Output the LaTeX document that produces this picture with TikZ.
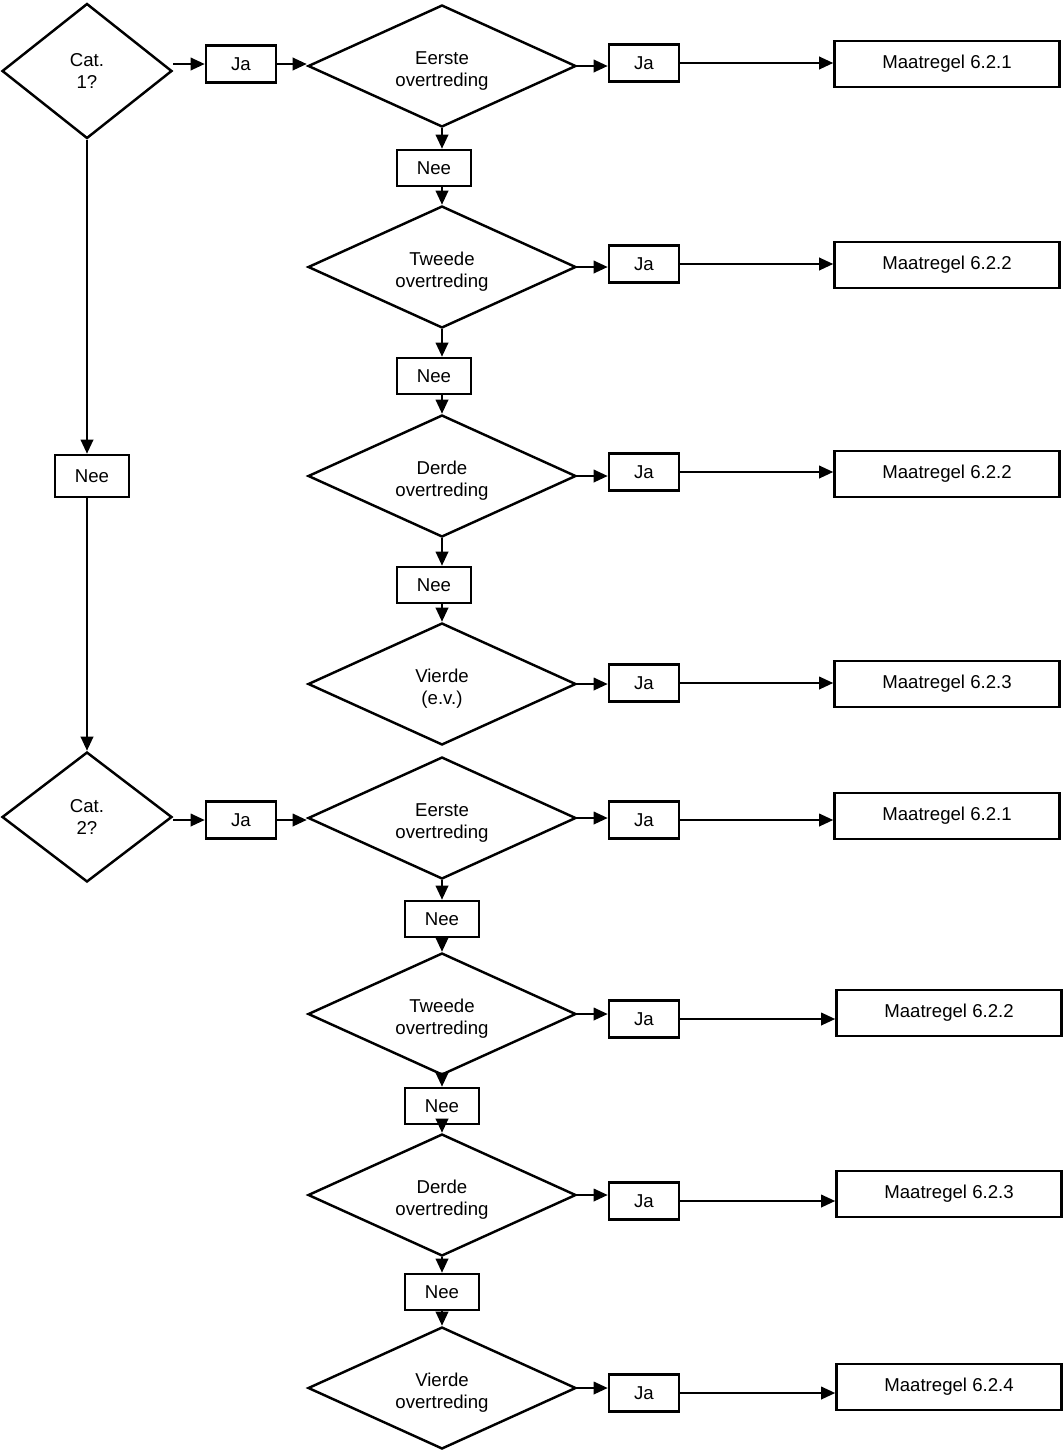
\documentclass[tikz,border=0pt]{standalone}
\usepackage{fontspec}
\setmainfont{Liberation Sans}
\usetikzlibrary{shapes.geometric}
\usetikzlibrary{arrows.meta}

\tikzset{
  vraag/.style={draw, diamond, line width=1.4pt, aspect=2.2, inner sep=0pt,
    minimum width=5.36cm, minimum height=2.44cm, align=center, text height=25.8pt},
  catvraag/.style={vraag, aspect=1.25, minimum width=3.4cm, minimum height=2.7cm,
    text height=20.2pt},
  antw/.style={draw, rectangle, line width=1.4pt, inner sep=0pt,
    minimum width=1.4cm, minimum height=0.74cm},
  nee/.style={antw, minimum width=1.48cm, minimum height=0.72cm},
  maatr/.style={antw, minimum width=4.5cm, minimum height=0.92cm},
  pijl/.style={line width=1.4pt, -{Triangle[length=8pt,width=7pt]}},
}

\begin{document}
\begin{tikzpicture}[x=0.02cm, y=-0.02cm, font=\fontsize{10.6}{12.5}\selectfont]
\useasboundingbox (0,0) rectangle (1063,1451);
\def\colc{87}
\def\colja{241}
\def\colv{442}
\def\colj{644}
\def\colm{947}

% categorie 1
\node[catvraag] (c1) at (\colc,71) {Cat.\\1?};
\node[antw] (ja1) at (\colja,64) {Ja};
\node[nee, minimum height=0.84cm] (nee0) at (92,476) {Nee};
\node[catvraag, minimum height=2.6cm] (c2) at (\colc,817) {Cat.\\2?};
\node[antw] (ja2) at (\colja,820) {Ja};

\node[vraag] (d1) at (\colv,66) {Eerste\\overtreding};
\node[vraag] (d2) at (\colv,267) {Tweede\\overtreding};
\node[vraag] (d3) at (\colv,476) {Derde\\overtreding};
\node[vraag] (d4) at (\colv,684) {Vierde\\(e.v.)};
\node[nee] (n1) at (434,168) {Nee};
\node[nee] (n2) at (434,376) {Nee};
\node[nee] (n3) at (434,585) {Nee};

% categorie 2
\node[vraag] (d5) at (\colv,818) {Eerste\\overtreding};
\node[vraag] (d6) at (\colv,1014) {Tweede\\overtreding};
\node[vraag] (d7) at (\colv,1195) {Derde\\overtreding};
\node[vraag] (d8) at (\colv,1388) {Vierde\\overtreding};
\node[nee] (n4) at (442,919) {Nee};
\node[nee] (n5) at (442,1106) {Nee};
\node[nee] (n6) at (442,1292) {Nee};

\node[antw] (j1) at (\colj,63) {Ja};
\node[antw] (j2) at (\colj,264) {Ja};
\node[antw] (j3) at (\colj,472) {Ja};
\node[antw] (j4) at (\colj,683) {Ja};
\node[antw] (j5) at (\colj,820) {Ja};
\node[antw] (j6) at (\colj,1019) {Ja};
\node[antw] (j7) at (\colj,1201) {Ja};
\node[antw] (j8) at (\colj,1393) {Ja};

\node[maatr] (m1) at (\colm,64) {Maatregel 6.2.1};
\node[maatr] (m2) at (\colm,265) {Maatregel 6.2.2};
\node[maatr] (m3) at (\colm,474) {Maatregel 6.2.2};
\node[maatr] (m4) at (\colm,684) {Maatregel 6.2.3};
\node[maatr] (m5) at (\colm,816) {Maatregel 6.2.1};
\node[maatr] (m6) at (949,1013) {Maatregel 6.2.2};
\node[maatr] (m7) at (949,1194) {Maatregel 6.2.3};
\node[maatr] (m8) at (949,1387) {Maatregel 6.2.4};

\draw[pijl] (ja1.west -| c1.east) -- (ja1.west);
\draw[pijl] (ja1.east) -- (ja1.east -| d1.west);
\draw[pijl] (ja2.west -| c2.east) -- (ja2.west);
\draw[pijl] (ja2.east) -- (ja2.east -| d5.west);
\draw[pijl] (c1.south) -- (c1.south |- nee0.north);
\draw[pijl] (nee0.south -| c2.north) -- (c2.north);

\draw[pijl] (d1.south) -- (d1.south |- n1.north);
\draw[pijl] (n1.south -| d2.north) -- (d2.north);
\draw[pijl] (d2.south) -- (d2.south |- n2.north);
\draw[pijl] (n2.south -| d3.north) -- (d3.north);
\draw[pijl] (d3.south) -- (d3.south |- n3.north);
\draw[pijl] (n3.south -| d4.north) -- (d4.north);
\draw[pijl] (d5.south) -- (d5.south |- n4.north);
\draw[pijl] (n4.south -| d6.north) -- (d6.north);
\draw[pijl] (d6.south) -- (d6.south |- n5.north);
\draw[pijl] (n5.south -| d7.north) -- (d7.north);
\draw[pijl] (d7.south) -- (d7.south |- n6.north);
\draw[pijl] (n6.south -| d8.north) -- (d8.north);

\draw[pijl] (d1.east) -- (d1.east -| j1.west);
\draw[pijl] (d2.east) -- (d2.east -| j2.west);
\draw[pijl] (d3.east) -- (d3.east -| j3.west);
\draw[pijl] (d4.east) -- (d4.east -| j4.west);
\draw[pijl] (d5.east) -- (d5.east -| j5.west);
\draw[pijl] (d6.east) -- (d6.east -| j6.west);
\draw[pijl] (d7.east) -- (d7.east -| j7.west);
\draw[pijl] (d8.east) -- (d8.east -| j8.west);

\draw[pijl] (j1.east) -- (j1.east -| m1.west);
\draw[pijl] (j2.east) -- (j2.east -| m2.west);
\draw[pijl] (j3.east) -- (j3.east -| m3.west);
\draw[pijl] (j4.east) -- (j4.east -| m4.west);
\draw[pijl] (j5.east) -- (j5.east -| m5.west);
\draw[pijl] (j6.east) -- (j6.east -| m6.west);
\draw[pijl] (j7.east) -- (j7.east -| m7.west);
\draw[pijl] (j8.east) -- (j8.east -| m8.west);
\end{tikzpicture}
\end{document}
